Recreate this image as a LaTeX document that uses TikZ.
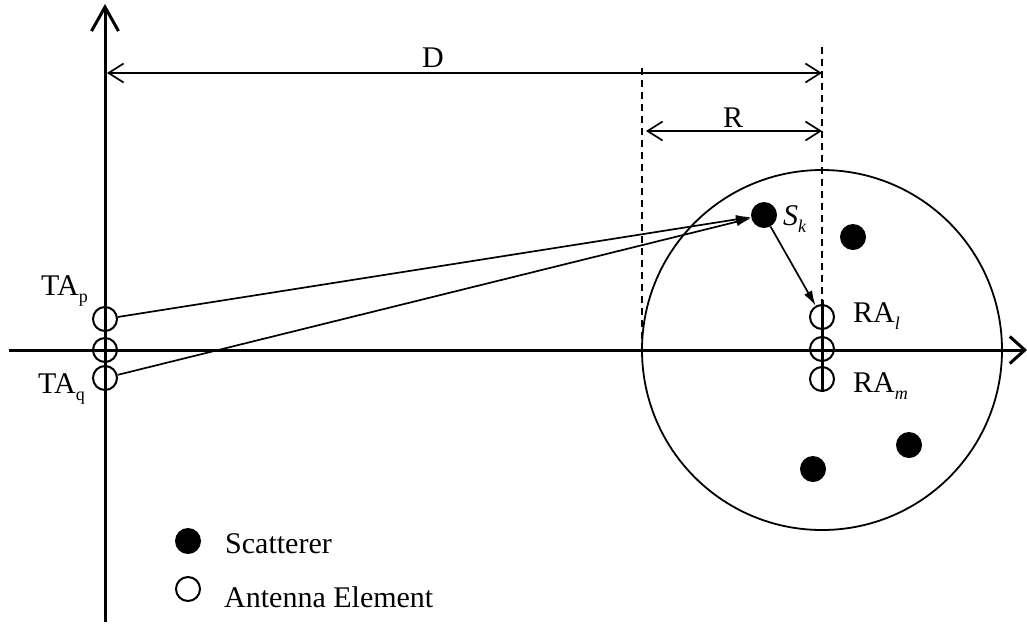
\documentclass[tikz,border=0pt]{standalone}
\usepackage{fontspec}
\setmainfont{Liberation Serif}
\usetikzlibrary{arrows.meta}
\newcommand{\lowsub}[1]{\raisebox{-7pt}{\fontsize{18}{18}\selectfont #1}}
\begin{document}
\begin{tikzpicture}[x=1pt,y=-1pt,
  ant/.style={circle, draw, line width=2pt, minimum size=24pt, inner sep=0pt},
  scat/.style={circle, fill, minimum size=26pt, inner sep=0pt},
  zonestyle/.style={circle, draw, line width=1.8pt, minimum size=360pt, inner sep=0pt},
  vaxis/.style={line width=3pt, -{Straight Barb[length=24pt,width=27pt]}},
  haxis/.style={line width=3pt, -{Straight Barb[length=15pt,width=27pt]}},
  dimline/.style={line width=1.7pt, {Straight Barb[length=15pt,width=19pt]}-{Straight Barb[length=15pt,width=19pt]}},
  ray/.style={line width=1.7pt, -{Latex[length=15pt,width=9pt]}},
  guide/.style={line width=2pt, dash pattern=on 7pt off 5pt},
  lbl/.style={font=\fontsize{30}{36}\selectfont, inner sep=0pt, anchor=base west}]
\useasboundingbox (0,0) rectangle (1027,625);
% scattering region
\node[zonestyle] (zone) at (822,350) {};
% guide lines
\coordinate (g1t) at (642,68);
\coordinate (g1b) at (642,352);
\coordinate (g2t) at (822,47);
\coordinate (g2b) at (822,300);
\draw[guide] (g1t) -- (g1b);
\draw[guide] (g2t) -- (g2b);
% axes
\coordinate (vbot) at (105,622);
\coordinate (vtop) at (105,4);
\coordinate (hleft) at (9,350);
\coordinate (hright) at (1027,350);
\draw[vaxis] (vbot) -- (vtop);
\draw[haxis] (hleft) -- (hright);
% receive array line
\coordinate (rat) at (822,300);
\coordinate (rab) at (822,392);
\draw[line width=3pt] (rat) -- (rab);
% dimensions
\coordinate (dl) at (107,73);
\coordinate (dr) at (822,73);
\coordinate (rl) at (646,131);
\coordinate (rr) at (822,131);
\draw[dimline] (dl) -- (dr);
\draw[dimline] (rl) -- (rr);
\node[lbl, anchor=base] (ld) at (433,67) {D};
\node[lbl, anchor=base] (lr) at (733,127) {R};
% antennas
\node[ant] (tap) at (105,319) {};
\node[ant] (ta0) at (105,350) {};
\node[ant] (taq) at (105,378) {};
\node[ant] (ral) at (822,317) {};
\node[ant] (ra0) at (822,349) {};
\node[ant] (ram) at (822,379) {};
% scatterers
\node[scat] (sk) at (764,215) {};
\node[scat] (s2) at (853,237) {};
\node[scat] (s3) at (909,445) {};
\node[scat] (s4) at (813,469) {};
% rays
\draw[ray] (tap) -- (sk);
\draw[ray] (taq) -- (sk);
\draw[ray] (sk) -- (ral);
% labels
\node[lbl] (ltap) at (41,295) {TA\lowsub{p}};
\node[lbl] (ltaq) at (38,393) {TA\lowsub{q}};
\node[lbl] (lsk) at (783,225) {\textit{S}\lowsub{\textit{k}}};
\node[lbl] (lral) at (853,322) {RA\lowsub{\textit{l}}};
\node[lbl] (lram) at (853,392) {RA\lowsub{\textit{m}}};
% legend
\node[scat] (legs) at (188,541) {};
\node[ant] (lega) at (188,589) {};
\node[lbl] (legst) at (225,553) {Scatterer};
\node[lbl] (legat) at (224,607) {Antenna Element};
\end{tikzpicture}
\end{document}
